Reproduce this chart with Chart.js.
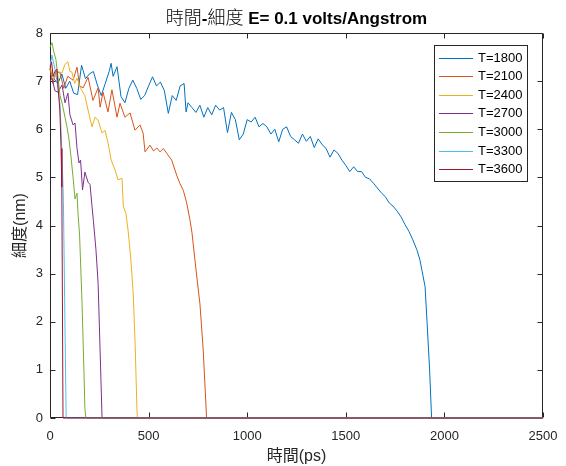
<!DOCTYPE html>
<html><head><meta charset="utf-8">
<script src="https://cdn.jsdelivr.net/npm/chart.js@4/dist/chart.umd.min.js"></script>
<style>html,body{margin:0;padding:0;background:#fff;}#wrap{width:566px;height:466px;position:relative}</style>
</head><body><div id="wrap"><canvas id="c" width="566" height="466"></canvas></div>
<script>
// ---- data (time in ps, diameter in nm) ----
const seriesLabels = ['T=1800','T=2100','T=2400','T=2700','T=3000','T=3300','T=3600'];
const seriesColors = ['#0072BD','#D95319','#EDB120','#7E2F8E','#77AC30','#4DBEEE','#A2142F'];
const xTickValues = [0,500,1000,1500,2000,2500];
const yTickValues = [0,1,2,3,4,5,6,7,8];

const t1800 = [0,20,40,60,80,100,120,140,160,180,200,220,240,260,280,300,310,320,340,360,380,400,420,440,460,480,500,520,540,560,580,600,620,640,660,680,690,700,720,740,760,780,800,820,840,860,880,900,920,940,960,980,1000,1020,1040,1060,1080,1100,1120,1140,1160,1180,1200,1220,1240,1260,1280,1300,1320,1340,1360,1380,1400,1420,1440,1460,1480,1500,1520,1540,1560,1580,1600,1620,1640,1660,1680,1700,1720,1740,1760,1780,1800,1820,1840,1860,1875,1886,1902,1912,1925,1935,2500];
const w1800 = [7.25,7.05,6.95,7.15,6.85,7.0,6.75,6.72,7.33,7.05,7.15,7.2,6.92,6.7,6.95,7.2,7.37,7.1,7.3,6.68,6.55,6.85,7.02,6.85,6.62,6.7,6.9,7.09,6.9,6.98,6.8,6.33,6.7,6.6,6.9,6.95,6.36,6.55,6.45,6.35,6.5,6.25,6.45,6.3,6.5,6.4,6.45,5.93,6.35,6.2,5.78,5.9,6.2,6.15,6.25,6.05,6.12,6.05,5.9,6.0,5.74,6.0,6.05,5.85,5.78,5.71,5.9,5.75,5.85,5.62,5.8,5.68,5.6,5.42,5.57,5.5,5.36,5.25,5.12,5.22,5.12,5.12,5.0,4.97,4.88,4.78,4.68,4.6,4.47,4.4,4.3,4.18,4.02,3.88,3.7,3.5,3.3,3.07,2.73,2.0,1.0,0,0];

const t2100 = [0,15,30,51,70,90,117,137,150,168,193,218,244,254,269,294,314,340,355,380,406,431,456,472,482,507,525,542,558,575,592,617,642,659,676,693,710,720,735,752,760,777,794,2500];
const w2100 = [7.25,6.95,7.2,7.17,6.85,7.1,7.02,7.29,6.9,6.86,7.08,6.6,6.86,6.46,6.77,6.36,6.82,6.25,6.54,6.25,6.34,5.98,6.09,5.92,5.53,5.67,5.55,5.61,5.53,5.6,5.5,5.36,5.05,4.87,4.73,4.47,4.11,3.85,3.28,2.66,2.39,1.41,0,0];

const t2400 = [0,20,40,61,76,91,101,111,125,137,155,177,193,213,228,244,264,279,295,310,330,345,365,372,385,396,410,422,432,441,443,2500];
const w2400 = [7.3,7.05,7.2,7.17,7.35,7.4,7.2,7.19,6.95,7.06,6.85,6.7,6.4,6.05,6.25,6.19,5.92,5.98,5.7,5.36,5.15,4.95,4.98,4.4,4.25,3.9,3.3,2.59,1.5,0.17,0,0];

const t2700 = [0,10,25,41,61,76,91,101,117,127,137,147,155,165,177,193,203,213,220,233,244,254,264,2500];
const w2700 = [7.0,7.06,6.8,6.77,6.92,6.55,6.75,6.3,6.09,6.13,5.6,5.3,5.36,4.74,5.11,4.9,4.85,4.4,4.1,3.5,2.8,1.41,0,0];

const t3000 = [0,10,20,30,41,51,61,76,86,96,106,117,127,137,142,150,162,172,177,182,2500];
const w3000 = [7.7,7.8,7.6,7.45,7.06,6.7,6.55,6.25,6.05,5.8,5.45,5.0,4.55,4.67,4.25,3.8,2.45,1.0,0.2,0,0];

const t3300 = [0,10,20,30,40,50,60,68,82,2500];
const w3300 = [7.3,7.54,7.35,7.15,6.85,6.55,5.6,4.5,0,0];

const t3600 = [0,8,16,25,35,42,50,56,60,66,2500];
const w3600 = [7.25,7.4,7.1,7.2,7.25,6.8,6.4,5.6,4.8,0,0];

const seriesTimes = [t1800,t2100,t2400,t2700,t3000,t3300,t3600];
const seriesWidths = [w1800,w2100,w2400,w2700,w3000,w3300,w3600];

// ---- chart ----
const FONT = "'Liberation Sans', Arial, 'Noto Sans CJK TC', sans-serif";
const CJK = "'Noto Sans CJK TC', 'Liberation Sans', sans-serif";
Chart.defaults.font.family = FONT;
Chart.defaults.color = '#262626';

const datasets = seriesLabels.map((lab, i) => ({
  label: lab,
  data: seriesTimes[i].map((t, j) => ({x: t, y: seriesWidths[i][j]})),
  borderColor: seriesColors[i],
  backgroundColor: seriesColors[i],
  borderWidth: 1,
  pointRadius: 0,
  tension: 0,
  fill: false,
  clip: false,
  order: seriesLabels.length - i
}));

const framePlugin = {
  id: 'frame',
  beforeDatasetsDraw(chart) {
    const {ctx, chartArea: a, scales: {x, y}} = chart;
    const L = Math.round(a.left) + 0.5, R = Math.round(a.right) - 0.5;
    const T = Math.round(a.top) + 0.5, B = Math.round(a.bottom) - 0.5;
    ctx.save();
    ctx.strokeStyle = '#262626';
    ctx.lineWidth = 1;
    ctx.beginPath();
    ctx.moveTo(L, T); ctx.lineTo(R, T); ctx.lineTo(R, B); ctx.lineTo(L, B); ctx.closePath();
    const tl = 5;
    x.ticks.forEach(tk => {
      const px = Math.round(x.getPixelForValue(tk.value)) + 0.5;
      ctx.moveTo(px, B); ctx.lineTo(px, B - tl);
      ctx.moveTo(px, T); ctx.lineTo(px, T + tl);
    });
    y.ticks.forEach(tk => {
      const py = Math.round(y.getPixelForValue(tk.value)) + 0.5;
      ctx.moveTo(L, py); ctx.lineTo(L + tl, py);
      ctx.moveTo(R, py); ctx.lineTo(R - tl, py);
    });
    ctx.stroke();
    ctx.restore();
  }
};

const overlayPlugin = {
  id: 'overlay',
  afterDraw(chart) {
    const {ctx, chartArea: a} = chart;
    ctx.save();
    // title (CJK glyphs regular, latin bold)
    const parts = [
      {t: '時間', f: '300 18px ' + CJK},
      {t: '-', f: 'bold 17px ' + FONT},
      {t: '細度', f: '300 18px ' + CJK},
      {t: ' E= 0.1 volts/Angstrom', f: 'bold 17px ' + FONT}
    ];
    let total = 0;
    parts.forEach(p => { ctx.font = p.f; p.w = ctx.measureText(p.t).width; total += p.w; });
    let xx = (a.left + a.right) / 2 - total / 2;
    ctx.fillStyle = '#000';
    ctx.textBaseline = 'alphabetic';
    ctx.textAlign = 'left';
    parts.forEach(p => { ctx.font = p.f; ctx.fillText(p.t, xx, 24); xx += p.w; });

    // legend
    const bx = 434.5, by = 45.5, bw = 93, bh = 136;
    ctx.fillStyle = '#fff';
    ctx.fillRect(bx, by, bw, bh);
    ctx.strokeStyle = '#262626';
    ctx.lineWidth = 1;
    ctx.strokeRect(bx, by, bw, bh);
    ctx.font = '13px ' + FONT;
    ctx.textBaseline = 'middle';
    chart.data.datasets.forEach((ds, i) => {
      const ry = 57.5 + i * 18.6;
      ctx.strokeStyle = ds.borderColor;
      ctx.beginPath();
      ctx.moveTo(439, Math.round(ry) + 0.5);
      ctx.lineTo(473, Math.round(ry) + 0.5);
      ctx.stroke();
      ctx.fillStyle = '#000';
      ctx.fillText(ds.label, 478, ry + 0.5);
    });
    ctx.restore();
  }
};

new Chart(document.getElementById('c'), {
  type: 'line',
  data: {datasets},
  plugins: [framePlugin, overlayPlugin],
  options: {
    responsive: false,
    animation: false,
    events: [],
    layout: {padding: {top: 33, right: 23, bottom: 0, left: 0}},
    plugins: {legend: {display: false}, title: {display: false}, tooltip: {enabled: false}},
    scales: {
      x: {
        type: 'linear', min: 0, max: 2500,
        afterBuildTicks: s => { s.ticks = xTickValues.map(v => ({value: v})); },
        ticks: {font: {size: 13}, color: '#262626', padding: 11, maxRotation: 0, callback: v => String(v)},
        grid: {display: false, drawTicks: false},
        border: {display: false},
        title: {display: true, text: '時間(ps)', font: {size: 16}, color: '#262626', padding: {top: 0, bottom: 0}},
        afterFit: s => { s.height = 48; s.paddingLeft = 0; s.paddingRight = 0; }
      },
      y: {
        type: 'linear', min: 0, max: 8,
        afterBuildTicks: s => { s.ticks = yTickValues.map(v => ({value: v})); },
        ticks: {font: {size: 13}, color: '#262626', padding: 7, callback: v => String(v)},
        grid: {display: false, drawTicks: false},
        border: {display: false},
        title: {display: true, text: '細度(nm)', font: {size: 16}, color: '#262626', padding: {top: 11, bottom: 0}},
        afterFit: s => { s.width = 50; s.paddingTop = 0; s.paddingBottom = 0; }
      }
    }
  }
});
</script>
</body></html>
